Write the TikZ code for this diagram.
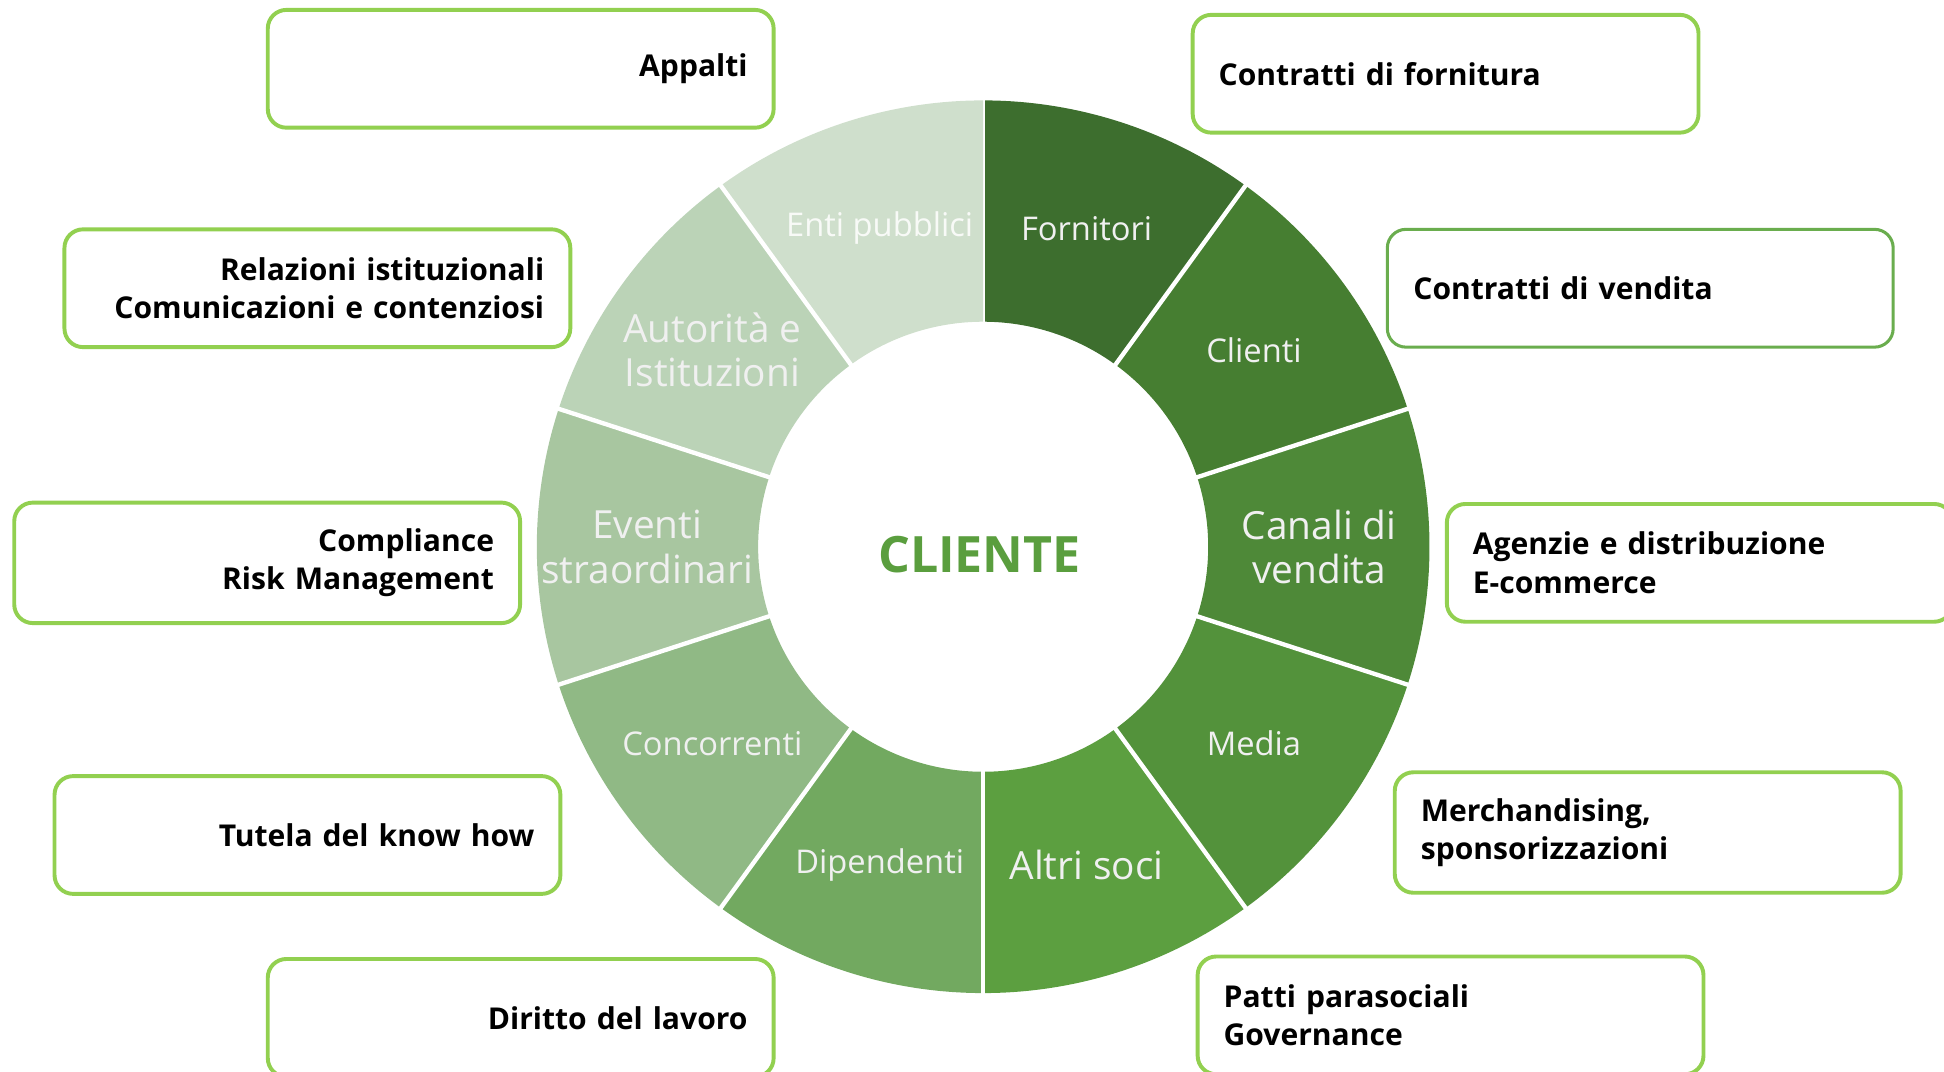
\documentclass[tikz,border=0pt]{standalone}
\usepackage{fontspec}
\setmainfont{Open Sans}
\usetikzlibrary{shapes}

\definecolor{boxgreen}{HTML}{92D050}
\definecolor{boxdark}{HTML}{6AAD4E}
\definecolor{title}{HTML}{5A9E3E}
\definecolor{segA}{HTML}{3D6E2E}
\definecolor{segB}{HTML}{467E31}
\definecolor{segC}{HTML}{4E8938}
\definecolor{segD}{HTML}{53923B}
\definecolor{segE}{HTML}{5C9F40}
\definecolor{segF}{HTML}{72A960}
\definecolor{segG}{HTML}{90B985}
\definecolor{segH}{HTML}{A8C6A0}
\definecolor{segI}{HTML}{BBD3B7}
\definecolor{segJ}{HTML}{CFDFCC}

\begin{document}
\begin{tikzpicture}[
    text centered,
	rounded/.style={
	  rectangle,
	  rounded corners=0.15cm,
	  line width=0.9pt,
	  draw=boxgreen,
	  fill=white,
	  minimum width=4.08cm,
	  minimum height=0.95cm,
	  inner sep=0.21cm,
	  text width=3.66cm,
	  font=\bfseries\fontsize{6.9}{8.8}\selectfont
	},
	leftbox/.style={rounded, align=right},
	rightbox/.style={rounded, align=left},
	small/.style={text=white!94!black, font=\fontsize{7.5}{9}\selectfont},
	big/.style={text=white!94!black, align=center, font=\fontsize{8.9}{10.2}\selectfont}
	]
	\useasboundingbox (-7.93, -4.23) rectangle (7.75, 4.41);
	\clip (-7.93, -4.23) rectangle (7.75, 4.41);
	% ring
	\foreach \a/\col in {90/segA, 54/segB, 18/segC, -18/segD, -54/segE,
	                     -90/segF, -126/segG, -162/segH, 162/segI, 126/segJ} {
	  \fill[\col] (\a:1.815) -- (\a:3.6)
	    arc[start angle=\a, end angle=\a-36, radius=3.6]
	    -- ({\a-36}:1.815)
	    arc[start angle=\a-36, end angle=\a, radius=1.815] -- cycle;
	  \draw[white, line width=1pt] (\a:1.8) -- (\a:3.62);
	}
	\node [text=title, font=\bfseries\fontsize{11.5}{13}\selectfont] at (-0.03, -0.06) (cliente) {CLIENTE};
	\node [small] at (72:2.7) (fornitori) {Fornitori};
	\node [small] at (36:2.7) (clienti) {Clienti};
	\node [big] at (0:2.71) (canali) {Canali di\\vendita};
	\node [small] at (-36:2.7) (media) {Media};
	\node [big] at (-72:2.7) (soci) {Altri soci};
	\node [small] at (-108:2.7) (dipendenti) {Dipendenti};
	\node [small] at (-144:2.7) (concorrenti) {Concorrenti};
	\node [big] at (180:2.71) (eventi) {Eventi\\straordinari};
	\node [big] at (144:2.7) (autorita) {Autorità e\\Istituzioni};
	\node [small, text=white!85!segJ] at (108:2.7) (enti) {Enti pubblici};
	% boxes
	\node [leftbox] at (-3.73, 3.855) (appalti) {Appalti};
	\node [leftbox] at (-5.37, 2.085) (relazioni) {Relazioni istituzionali\\Comunicazioni e contenziosi};
	\node [leftbox] at (-5.775, -0.13) (compliance) {Compliance\\Risk Management};
	\node [leftbox] at (-5.45, -2.325) (knowhow) {Tutela del know how};
	\node [leftbox] at (-3.73, -3.8) (lavoro) {Diritto del lavoro};
	\node [rightbox] at (3.73, 3.815) (fornitura) {Contratti di fornitura};
	\node [rightbox, draw=boxdark, line width=0.7pt] at (5.30, 2.085) (vendita) {Contratti di vendita};
	\node [rightbox] at (5.78, -0.13) (agenzie) {Agenzie e distribuzione\\E-commerce};
	\node [rightbox] at (5.36, -2.305) (merch) {Merchandising,\\sponsorizzazioni};
	\node [rightbox] at (3.77, -3.78) (patti) {Patti parasociali\\Governance};
  \end{tikzpicture}
\end{document}
